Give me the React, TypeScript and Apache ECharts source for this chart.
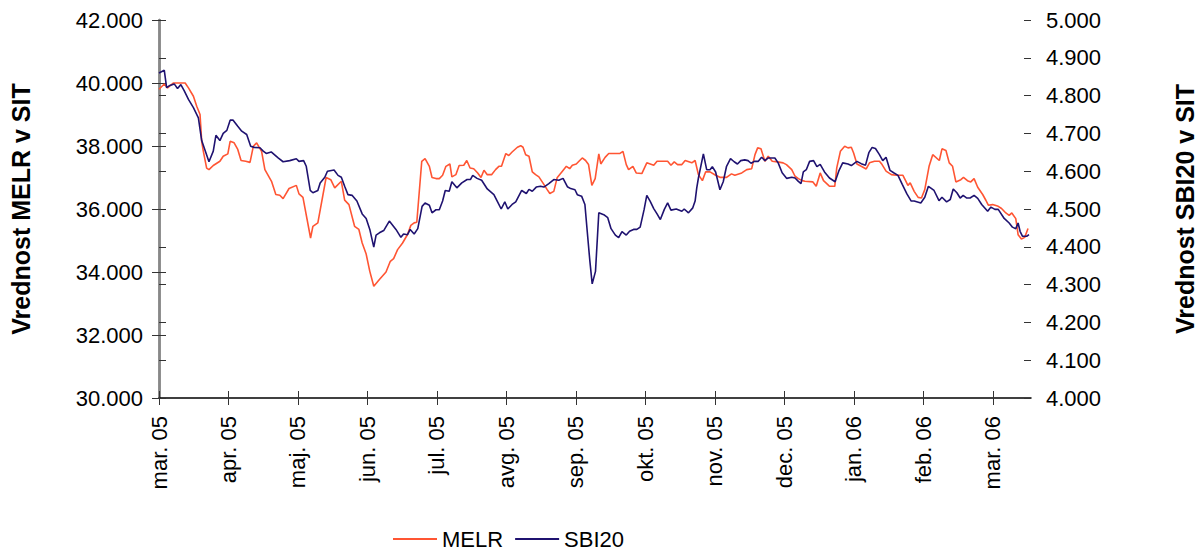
import React, { useEffect, useRef } from "react";
import * as echarts from "echarts";

// x = trading-day index (tick every 21 trading days)
const monthLabels = ["mar. 05", "apr. 05", "maj. 05", "jun. 05", "jul. 05", "avg. 05", "sep. 05", "okt. 05", "nov. 05", "dec. 05", "jan. 06", "feb. 06", "mar. 06"];
const monthTicks = [0, 21, 42, 63, 84, 105, 126, 147, 168, 189, 210, 231, 252];
const xMax = 263.5;

const melrTicks = [30000, 32000, 34000, 36000, 38000, 40000, 42000];
const sbiTicks = [4000, 4100, 4200, 4300, 4400, 4500, 4600, 4700, 4800, 4900, 5000];

const melr: number[][] = [
  [0, 39800], [1.6, 39970], [2.6, 39845], [4.3, 40000], [7.9, 40000], [8.9, 39845], [10.4, 39580], [11.4, 39260], [12.4, 39000], [12.9, 38150], [13.4, 37830], [14.4, 37300], [15.1, 37250], [16.4, 37380], [18.4, 37515], [19.4, 37675], [20.8, 37750], [21.5, 38150], [22.7, 38100], [23.8, 37890], [24.8, 37540], [26.2, 37515], [27.5, 37480], [28.5, 37990], [29.5, 38100], [31, 37830], [32, 37250], [34, 36880], [35.3, 36460], [36.5, 36435], [37.5, 36330], [39.3, 36650], [41.5, 36750], [42.3, 36480], [43.5, 36370], [45.8, 35080], [46.5, 35450], [48, 35560], [50.5, 37000], [51.9, 36930], [53.1, 36670], [55.1, 36880], [56.1, 36280], [57.4, 36140], [59.1, 35450], [60.4, 35350], [61.4, 34920], [62.6, 34570], [63.7, 34020], [64.9, 33550], [66.6, 33760], [68.6, 34000], [69.9, 34340], [70.9, 34425], [72.1, 34710], [73.6, 34920], [75.1, 35190], [76.1, 35480], [77.1, 35560], [77.9, 35580], [79.4, 37515], [80.4, 37600], [81.7, 37355], [82.5, 37000], [83.7, 36965], [84.7, 36965], [85.7, 37070], [86.7, 37355], [87.9, 37430], [88.5, 37020], [89.7, 37090], [90.7, 37380], [92.1, 37390], [93, 37540], [94, 37300], [95.1, 37280], [96.3, 37145], [97.3, 37000], [98.2, 37230], [99.2, 37090], [100.5, 37090], [101.7, 37250], [102.7, 37355], [103.5, 37355], [104.8, 37760], [105.7, 37700], [106.7, 37810], [108.3, 37960], [109.3, 38010], [110, 37960], [110.8, 37725], [111.8, 37675], [112.8, 37180], [113.8, 37090], [114.8, 37020], [116, 36830], [117.3, 36615], [118.1, 36490], [119.3, 36560], [120.3, 36990], [121.9, 37200], [123.1, 37355], [124.1, 37280], [124.9, 37390], [126.1, 37430], [126.9, 37515], [127.9, 37620], [128.9, 37540], [129.8, 37410], [130.8, 36750], [131.8, 36965], [132.9, 37750], [133.5, 37430], [134.8, 37640], [135.9, 37760], [139.2, 37760], [140.2, 37830], [141.2, 37410], [141.9, 37250], [143.2, 37355], [144.2, 37145], [145.9, 37125], [147.4, 37465], [149.5, 37390], [150.5, 37515], [153.7, 37515], [154.7, 37390], [155.7, 37495], [156.7, 37410], [158, 37410], [159, 37540], [161, 37465], [162, 37540], [163, 37090], [164.2, 36900], [165.2, 37180], [166.5, 37180], [168.2, 37070], [169.5, 37005], [171.5, 37005], [173, 37115], [174, 37070], [176.1, 37145], [177.6, 37250], [179.1, 37280], [180.1, 37725], [180.9, 37940], [181.9, 37910], [183.1, 37515], [184.1, 37675], [185.3, 37515], [186.9, 37495], [188.6, 37465], [189.6, 37410], [191.2, 37250], [192.2, 37040], [193.2, 36965], [194.4, 36900], [195.2, 36880], [197.6, 36860], [198.6, 36720], [199.8, 37145], [200.8, 36900], [202.1, 36775], [202.6, 36720], [204.2, 36720], [204.8, 37305], [205.9, 37830], [207.2, 37990], [208.2, 37940], [209.2, 37960], [209.9, 37780], [210.9, 37430], [212.2, 37355], [213.7, 37270], [214.7, 37465], [216.2, 37515], [217.7, 37515], [218.5, 37410], [219.7, 37200], [221.3, 37090], [222.8, 37070], [224.8, 37070], [225.6, 36900], [226.3, 36750], [227, 36830], [228.2, 36560], [229.4, 36370], [230.4, 36350], [231.4, 36615], [232.7, 37355], [233.8, 37725], [235.8, 37540], [236.6, 37910], [237.8, 37855], [238.8, 37465], [239.8, 37355], [240.8, 36860], [242.3, 36930], [243.1, 37005], [244.3, 36900], [245.3, 36860], [246.3, 36965], [247.4, 36690], [248.9, 36460], [249.9, 36270], [250.6, 36120], [251.9, 36140], [253.6, 36085], [254.6, 36015], [255.9, 35875], [256.9, 35800], [257.7, 35875], [258.9, 35695], [259.6, 35185], [260.6, 35050], [261.6, 35100], [262.6, 35380],
];

const sbi20: number[][] = [
  [0, 4860], [1.6, 4867], [2.3, 4821], [3.3, 4827], [4.6, 4831], [5.6, 4819], [6.6, 4829], [7.6, 4813], [8.9, 4790], [10.4, 4768], [11.9, 4741], [12.9, 4681], [15.1, 4625], [16.4, 4653], [17.2, 4695], [18.4, 4681], [19.4, 4700], [20.5, 4708], [21.5, 4735], [22.4, 4735], [23.8, 4719], [25, 4706], [26.5, 4697], [27.7, 4666], [28.8, 4663], [30.5, 4662], [31.5, 4653], [32.4, 4647], [33.9, 4651], [36, 4635], [37.5, 4625], [39.5, 4628], [41.5, 4633], [42.3, 4626], [43.7, 4628], [44.5, 4613], [45.7, 4549], [46.5, 4543], [48, 4549], [48.7, 4569], [50.1, 4584], [50.9, 4600], [52.9, 4603], [54.1, 4589], [55.1, 4584], [56.1, 4560], [57.1, 4538], [58.4, 4536], [59.8, 4521], [61.4, 4487], [62.6, 4475], [63.7, 4446], [64.9, 4399], [65.6, 4431], [66.6, 4437], [67.9, 4443], [69.6, 4468], [71.6, 4446], [73.1, 4425], [73.9, 4434], [75.1, 4432], [75.9, 4446], [77.1, 4434], [78.2, 4448], [79.5, 4507], [80.4, 4516], [81.7, 4510], [82.5, 4490], [83.7, 4498], [84.7, 4498], [85.7, 4521], [86.5, 4549], [87.7, 4547], [88.5, 4572], [90, 4556], [91.5, 4569], [93.1, 4578], [94.1, 4578], [94.8, 4589], [96.1, 4581], [97.5, 4576], [99.2, 4553], [101.2, 4538], [102.2, 4521], [103.4, 4500], [104.5, 4519], [105.4, 4500], [106.7, 4512], [107.8, 4519], [109.6, 4549], [111, 4541], [111.8, 4552], [112.8, 4547], [114, 4558], [115.3, 4560], [116.3, 4558], [117.8, 4567], [119.3, 4578], [120.8, 4576], [122.1, 4581], [123.4, 4559], [124.4, 4554], [125.7, 4551], [126.4, 4538], [127.7, 4534], [128.7, 4512], [129.4, 4441], [130.2, 4362], [130.9, 4302], [131.9, 4335], [132.9, 4490], [134.4, 4485], [135.6, 4477], [136.6, 4448], [137.9, 4431], [138.9, 4424], [139.9, 4440], [141.2, 4431], [142.2, 4441], [143.4, 4446], [144.4, 4446], [145.4, 4452], [146.6, 4499], [147.4, 4536], [148.4, 4521], [149.5, 4501], [150.5, 4487], [151.5, 4472], [152.7, 4499], [153.7, 4516], [154.7, 4497], [156.3, 4500], [158, 4494], [158.7, 4500], [160, 4490], [161.3, 4503], [162, 4521], [162.5, 4556], [163, 4582], [164.5, 4646], [165.5, 4604], [166.5, 4604], [167.2, 4612], [168.2, 4598], [169.5, 4551], [170.5, 4572], [171.5, 4613], [172.7, 4633], [173.8, 4625], [174.8, 4619], [175.8, 4628], [177, 4630], [178, 4628], [178.9, 4621], [179.9, 4626], [181.1, 4626], [182.1, 4637], [183.1, 4628], [184.1, 4635], [186.1, 4635], [187.1, 4622], [188.3, 4596], [189.7, 4581], [191.2, 4584], [192.2, 4582], [193.2, 4573], [194, 4567], [194.7, 4598], [195.6, 4604], [196.6, 4626], [197.8, 4628], [198.8, 4612], [199.8, 4618], [201.1, 4598], [202.6, 4582], [204.3, 4572], [205.4, 4600], [206.6, 4622], [208.2, 4619], [209.2, 4615], [210.9, 4626], [212.2, 4620], [213.5, 4616], [214.5, 4649], [215.5, 4663], [216.5, 4660], [217.7, 4644], [218.7, 4628], [219.7, 4637], [220.9, 4602], [222, 4596], [223.3, 4589], [224.6, 4565], [226, 4540], [227.3, 4521], [228.2, 4521], [230.2, 4516], [231.4, 4531], [232.5, 4560], [234.2, 4549], [235.7, 4522], [236.6, 4531], [238, 4519], [239.1, 4525], [240, 4553], [241.1, 4543], [242.1, 4529], [243, 4536], [244.1, 4529], [245.1, 4529], [246.3, 4536], [247.4, 4528], [248.6, 4512], [250.4, 4494], [251.4, 4505], [252.6, 4499], [253.6, 4499], [255.4, 4475], [256.9, 4463], [257.9, 4452], [258.9, 4448], [259.6, 4463], [260.2, 4441], [260.9, 4428], [262.2, 4428], [262.9, 4432],
];

const FONT = "'Liberation Sans', Arial, sans-serif";
const fmtThousands = (v: number) => {
  const s = String(Math.round(v));
  return s.slice(0, s.length - 3) + "." + s.slice(s.length - 3);
};

export default function App() {
  const ref = useRef<HTMLDivElement>(null);
  useEffect(() => {
    if (!ref.current) return;
    const chart = echarts.init(ref.current, null, { renderer: "svg" });
    const tickStyle = { color: "#333", width: 1 };
    const yCommon = (ticks: number[]) => ({
      type: "value" as const,
      min: ticks[0],
      max: ticks[ticks.length - 1],
      interval: ticks[1] - ticks[0],
      splitLine: { show: false },
    });
    chart.setOption({
      animation: false,
      backgroundColor: "#ffffff",
      textStyle: { fontFamily: FONT },
      grid: { left: 159, right: 166, top: 20, bottom: 152, containLabel: false, outerBoundsMode: "none" },
      legend: {
        left: 388,
        top: 523,
        icon: "rect",
        itemWidth: 44,
        itemHeight: 2,
        itemGap: 12,
        textStyle: { fontFamily: FONT, fontSize: 22, color: "#000" },
        data: ["MELR", "SBI20"],
      },
      xAxis: [
        {
          type: "value",
          min: 0,
          max: xMax,
          position: "bottom",
          splitLine: { show: false },
          axisLine: { show: true, lineStyle: { color: "#000", width: 1.5 } },
          axisTick: { show: true, length: 7, customValues: monthTicks, lineStyle: tickStyle },
          axisLabel: {
            customValues: monthTicks,
            rotate: 90,
            margin: 18,
            fontFamily: FONT,
            fontSize: 22,
            color: "#000",
            formatter: (v: number) => {
              const i = monthTicks.indexOf(Math.round(v));
              return i >= 0 ? monthLabels[i] : "";
            },
          },
        },
        {
          type: "value",
          min: 0,
          max: xMax,
          position: "bottom",
          splitLine: { show: false },
          axisLine: { show: false },
          axisTick: { show: true, inside: true, length: 7, customValues: monthTicks, lineStyle: tickStyle },
          axisLabel: { show: false },
        },
      ],
      yAxis: [
        {
          ...yCommon(melrTicks),
          position: "left",
          name: "Vrednost MELR v SIT",
          nameLocation: "middle",
          nameRotate: 90,
          nameGap: 126,
          nameTextStyle: { fontFamily: FONT, fontSize: 25, fontWeight: "bold", color: "#000" },
          axisLine: { show: true, lineStyle: { color: "#888", width: 2.5 } },
          axisTick: { show: true, length: 7, lineStyle: tickStyle },
          axisLabel: { margin: 16, fontFamily: FONT, fontSize: 22, color: "#000", formatter: fmtThousands },
        },
        {
          ...yCommon(sbiTicks),
          position: "right",
          name: "Vrednost SBI20 v SIT",
          nameLocation: "middle",
          nameRotate: 90,
          nameGap: 141,
          nameTextStyle: { fontFamily: FONT, fontSize: 25, fontWeight: "bold", color: "#000" },
          axisLine: { show: true, lineStyle: { color: "#888", width: 2.5 } },
          axisTick: { show: true, length: 7, lineStyle: tickStyle },
          axisLabel: { margin: 15, fontFamily: FONT, fontSize: 22, color: "#000", formatter: fmtThousands },
        },
        {
          ...yCommon(melrTicks),
          position: "left",
          axisLine: { show: false },
          axisTick: { show: true, inside: true, length: 7, lineStyle: tickStyle },
          axisLabel: { show: false },
        },
        {
          ...yCommon(sbiTicks),
          position: "right",
          axisLine: { show: false },
          axisTick: { show: true, inside: true, length: 7, lineStyle: tickStyle },
          axisLabel: { show: false },
        },
      ],
      series: [
        {
          name: "MELR",
          type: "line",
          xAxisIndex: 0,
          yAxisIndex: 0,
          data: melr,
          showSymbol: false,
          symbol: "none",
          lineStyle: { color: "#ff5533", width: 1.6 },
          itemStyle: { color: "#ff5533" },
        },
        {
          name: "SBI20",
          type: "line",
          xAxisIndex: 0,
          yAxisIndex: 1,
          data: sbi20,
          showSymbol: false,
          symbol: "none",
          lineStyle: { color: "#1f1270", width: 1.6 },
          itemStyle: { color: "#1f1270" },
        },
      ],
    });
    return () => chart.dispose();
  }, []);
  return (
    <div
      ref={ref}
      style={{ position: "fixed", left: 0, top: 0, width: 1197, height: 550, background: "#fff" }}
    />
  );
}
